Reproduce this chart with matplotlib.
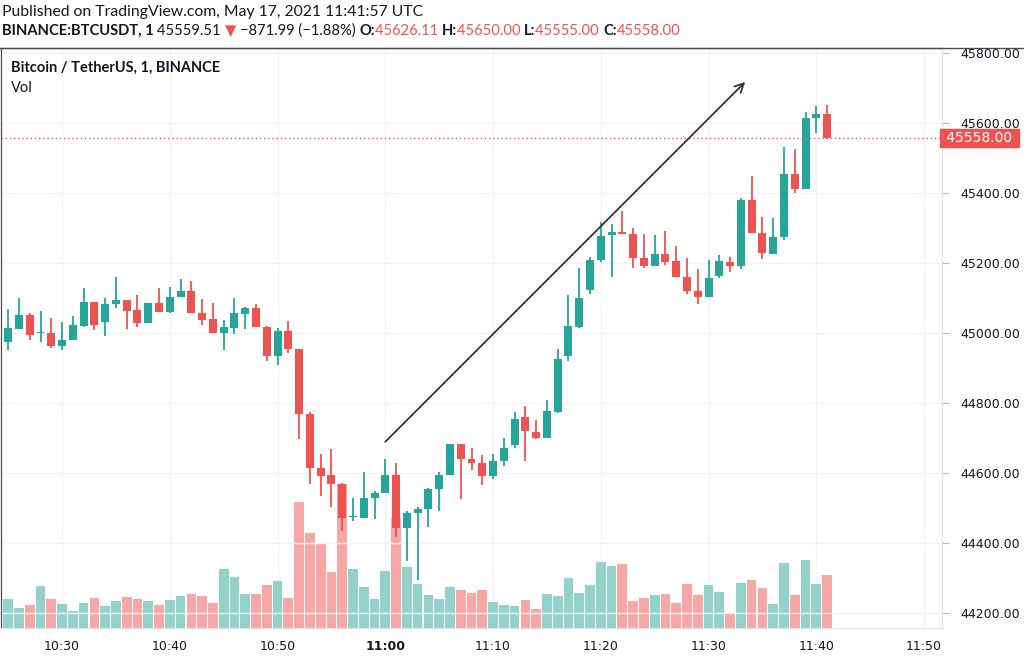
import matplotlib
matplotlib.use("Agg")
import matplotlib.pyplot as plt
import matplotlib.dates as mdates
from matplotlib.lines import Line2D
import numpy as np
import pandas as pd

# 1-minute BTCUSDT candles, 10:25 .. 11:41
times = pd.date_range("2021-05-17 10:25", "2021-05-17 11:41", freq="min")
opens = [44973, 45012, 45050, 44999, 45000, 44964, 44980, 45020, 45089, 45030,
         45083, 45093, 45066, 45028, 45086, 45060, 45102, 45120, 45058, 45039,
         45001, 45013, 45054, 45070, 45016, 44935, 45006, 44954, 44768, 44615,
         44593, 44567, 44474, 44472, 44528, 44542, 44593, 44443, 44485, 44498,
         44553, 44593, 44682, 44640, 44629, 44590, 44633, 44680, 44759, 44718,
         44701, 44775, 44933, 45018, 45123, 45209, 45279, 45289, 45282, 45213,
         45191, 45225, 45206, 45161, 45121, 45102, 45163, 45204, 45190, 45380,
         45285, 45226, 45275, 45453, 45411, 45613, 45626]
highs = [45068, 45101, 45056, 45062, 45042, 45031, 45049, 45128, 45089, 45100,
         45161, 45093, 45108, 45086, 45128, 45132, 45153, 45147, 45096, 45085,
         45037, 45101, 45073, 45082, 45020, 45015, 45035, 44954, 44775, 44654,
         44669, 44571, 44528, 44602, 44549, 44639, 44628, 44491, 44502, 44557,
         44603, 44682, 44682, 44671, 44651, 44653, 44701, 44773, 44790, 44752,
         44809, 44954, 45109, 45185, 45218, 45318, 45310, 45347, 45299, 45282,
         45280, 45290, 45249, 45213, 45182, 45207, 45222, 45216, 45385, 45449,
         45332, 45328, 45530, 45526, 45630, 45647, 45650]
lows = [44951, 45012, 44980, 44974, 44958, 44951, 44980, 45018, 45009, 44990,
        45070, 45010, 45016, 45028, 45060, 45056, 45102, 45056, 45023, 45001,
        44952, 44997, 45011, 45016, 44921, 44907, 44942, 44696, 44568, 44535,
        44502, 44433, 44462, 44472, 44468, 44542, 44418, 44347, 44295, 44445,
        44492, 44593, 44525, 44609, 44565, 44584, 44620, 44672, 44634, 44696,
        44701, 44771, 44920, 45013, 45112, 45204, 45161, 45282, 45185, 45185,
        45191, 45194, 45161, 45112, 45083, 45102, 45156, 45175, 45182, 45285,
        45211, 45226, 45266, 45399, 45411, 45571, 45555]
closes = [45013, 45050, 44995, 45002, 44963, 44981, 45024, 45089, 45023, 45084,
          45093, 45064, 45028, 45086, 45060, 45102, 45120, 45056, 45037, 45001,
          45018, 45056, 45070, 45016, 44934, 45006, 44954, 44768, 44615, 44592,
          44567, 44471, 44477, 44528, 44542, 44593, 44442, 44485, 44498, 44553,
          44593, 44682, 44640, 44628, 44592, 44633, 44670, 44754, 44719, 44701,
          44777, 44926, 45021, 45101, 45209, 45278, 45289, 45282, 45213, 45190,
          45225, 45204, 45161, 45121, 45102, 45157, 45205, 45190, 45380, 45285,
          45228, 45275, 45453, 45411, 45613, 45626, 45558]
volumes = [87, 60, 68, 127, 87, 71, 52, 76, 89, 65,
           80, 92, 86, 80, 68, 83, 97, 102, 96, 75,
           176, 152, 101, 101, 129, 142, 89, 376, 283, 251,
           168, 431, 178, 122, 87, 170, 330, 182, 132, 100,
           87, 122, 114, 105, 115, 77, 70, 66, 85, 57,
           102, 96, 150, 105, 128, 198, 187, 191, 82, 89,
           100, 102, 74, 132, 100, 130, 108, 42, 136, 145,
           121, 72, 195, 100, 203, 133, 158]
last_price = 45558
tick_times = pd.date_range("2021-05-17 10:30", "2021-05-17 11:50", freq="10min")
tick_labels = ["10:30", "10:40", "10:50", "11:00", "11:10", "11:20", "11:30", "11:40", "11:50"]
price_ticks = [44200, 44400, 44600, 44800, 45000, 45200, 45400, 45600, 45800]

UP, DOWN = "#26a69a", "#ef5350"
UP_V, DOWN_V = "#92d2cb", "#f7a8a6"
TXT = "#131722"
GRID = "#f0f3fa"

o = np.array(opens)
c = np.array(closes)
up = c >= o
colors = [UP if u else DOWN for u in up]
vcolors = [UP_V if u else DOWN_V for u in up]
minute = 1 / 1440

fig = plt.figure(figsize=(10.24, 6.61), dpi=100)
ax_vol = fig.add_axes([1 / 1024, 33 / 661, 941 / 1024, 580 / 661])
ax = ax_vol.twinx()
ax_vol.set_zorder(0)
ax.set_zorder(1)
ax.patch.set_visible(False)

# volume
ax_vol.bar(times, volumes, width=0.9 * minute, color=vcolors, linewidth=0)
ax_vol.set_ylim(0, 1736)
ax_vol.set_yticks([])

# candles
ax.vlines(times, lows, highs, color=colors, linewidth=1.3)
body_low = np.minimum(o, c)
body_h = np.maximum(np.abs(c - o), 4)
ax.bar(times, body_h, bottom=body_low, width=0.74 * minute, color=colors, linewidth=0)

ax.set_ylim(44157, 45814)
ax_vol.set_xlim(pd.Timestamp("2021-05-17 10:24:20"), pd.Timestamp("2021-05-17 11:51:40"))

# grid
for t in tick_times:
    ax_vol.axvline(t, color=GRID, lw=1, zorder=0)
ax.set_yticks(price_ticks)
ax.set_yticklabels([f"{p:.2f}" for p in price_ticks])
ax.grid(axis="y", color=GRID, lw=1, zorder=0)
ax.set_axisbelow(True)

# last price line + label
ax.axhline(last_price, color=DOWN, lw=1, linestyle=(0, (1, 2)))
ax.text(1.0, last_price, f" {last_price:.2f} ", transform=ax.get_yaxis_transform(),
        ha="left", va="center", color="white", fontsize=10, family="DejaVu Sans",
        bbox=dict(boxstyle="square,pad=0.15", fc=DOWN, ec=DOWN), clip_on=False, zorder=5)

# trend arrow
ax.annotate("", xy=(pd.Timestamp("2021-05-17 11:33:24"), 45717),
            xytext=(pd.Timestamp("2021-05-17 11:00:00"), 44689),
            arrowprops=dict(arrowstyle="->", color="#333333", lw=1.3,
                            mutation_scale=16, shrinkA=0, shrinkB=0))

# axes styling
ax_vol.set_xticks(tick_times)
ax_vol.set_xticklabels(tick_labels)
ax_vol.tick_params(axis="x", length=0, pad=9, labelsize=9, labelcolor=TXT)
for lab in ax_vol.get_xticklabels():
    if lab.get_text() == "11:00":
        lab.set_fontweight("bold")
ax.tick_params(axis="y", direction="out", length=5, color="#b2b5be", pad=8,
               labelsize=9, labelcolor=TXT)
for a in (ax_vol, ax):
    a.spines["top"].set_color("#4a4a4a")
    a.spines["left"].set_color("#4a4a4a")
    a.spines["right"].set_color("#e0e3eb")
    a.spines["bottom"].set_color("#e0e3eb")

# full width top border
fig.add_artist(Line2D([0, 1], [1 - 48 / 661, 1 - 48 / 661], transform=fig.transFigure,
                      color="#4a4a4a", lw=1))

# legend texts inside chart
ax.text(10 / 941, 1 - 20 / 580, "Bitcoin / TetherUS, 1, BINANCE", transform=ax.transAxes,
        fontsize=10.5, fontweight="bold", family=["Lato", "DejaVu Sans"], color=TXT,
        va="center", ha="left")
ax.text(10 / 941, 1 - 40 / 580, "Vol", transform=ax.transAxes,
        fontsize=10.5, family=["Lato", "DejaVu Sans"], color=TXT, va="center", ha="left")

# header
fig.canvas.draw()
renderer = fig.canvas.get_renderer()


def line(y_px, pieces, size, x0=2):
    x = x0
    for s, weight, col in pieces:
        t = fig.text(x / 1024, 1 - y_px / 661, s, fontsize=size, fontweight=weight,
                     color=col, family=["Lato", "DejaVu Sans"], va="center", ha="left")
        x = t.get_window_extent(renderer).x1


line(12, [("Published on TradingView.com, May 17, 2021 11:41:57 UTC", "normal", TXT)], 11.3)
line(31, [("BINANCE:BTCUSDT, 1 ", "bold", TXT),
          ("45559.51 ", "normal", TXT),
          ("▼ ", "normal", DOWN),
          ("\u2212871.99 (\u22121.88%) ", "normal", TXT),
          ("O:", "bold", TXT), ("45626.11 ", "normal", DOWN),
          ("H:", "bold", TXT), ("45650.00 ", "normal", DOWN),
          ("L:", "bold", TXT), ("45555.00 ", "normal", DOWN),
          ("C:", "bold", TXT), ("45558.00", "normal", DOWN)], 10.6)

fig.savefig("out.png", dpi=100)
